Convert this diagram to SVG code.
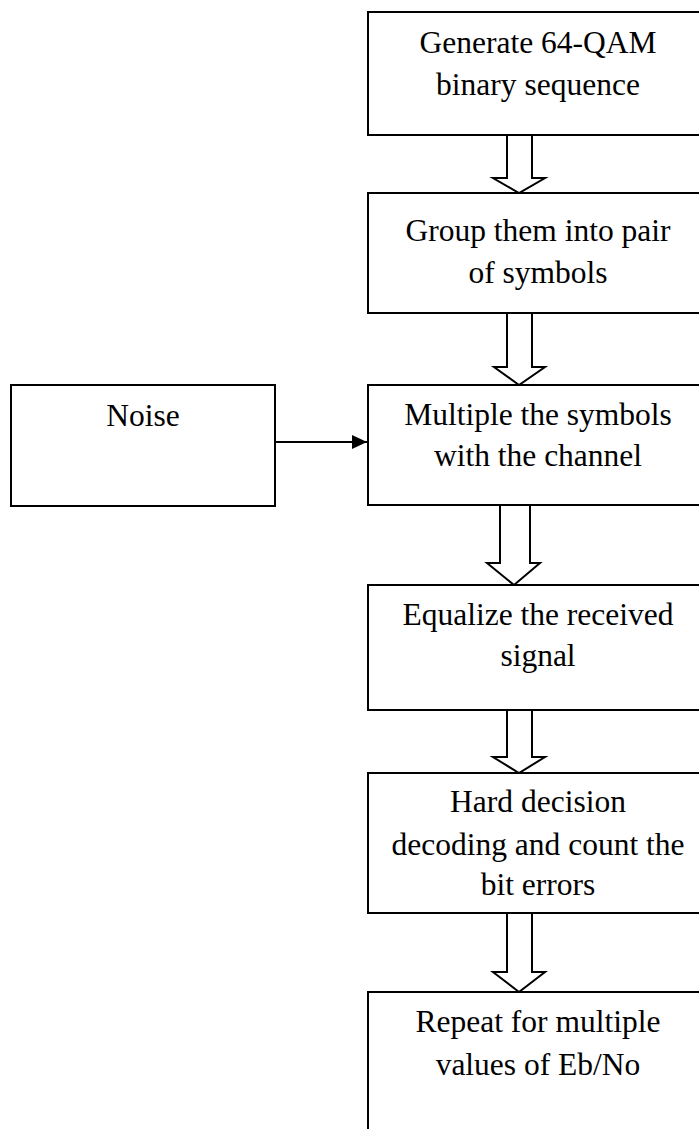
<svg xmlns="http://www.w3.org/2000/svg" width="699" height="1129" viewBox="0 0 699 1129">
<style>
.box{fill:#fff;stroke:#000;stroke-width:2}
.blk{fill:#fff;stroke:#000;stroke-width:2;stroke-linejoin:miter}
.ln{fill:none;stroke:#000;stroke-width:2}
text{font-family:"Liberation Serif","Times New Roman",serif;font-size:31.5px;fill:#000;text-anchor:middle}
</style>
<defs>
<marker id="ah" markerWidth="8" markerHeight="8" refX="7.5" refY="3.5" orient="auto" markerUnits="strokeWidth">
<path d="M0,0 L7.5,3.5 L0,7 Z" fill="#000"/>
</marker>
</defs>
<rect width="699" height="1129" fill="#fff"/>
<g id="connectors">
<polygon class="blk" points="507,135 507,178 493,178 519,193 545,178 532,178 532,135"/>
<polygon class="blk" points="507,313 507,367 494,367 519,385 545,367 532,367 532,313"/>
<polygon class="blk" points="500,505 500,563 487,563 514,585 540,563 530,563 530,505"/>
<polygon class="blk" points="507,710 507,757 493,757 519,773 545,757 532,757 532,710"/>
<polygon class="blk" points="507,913 507,972 493,972 519,992 545,972 532,972 532,913"/>
<line class="ln" x1="275" y1="442" x2="367" y2="442" marker-end="url(#ah)"/>
</g>
<g id="n1">
<rect class="box" x="368" y="12" width="342" height="123"/>
<text x="538" y="53">Generate 64-QAM</text>
<text x="538" y="95">binary sequence</text>
</g>
<g id="n2">
<rect class="box" x="368" y="193" width="342" height="120"/>
<text x="538" y="241">Group them into pair</text>
<text x="538" y="283">of symbols</text>
</g>
<g id="n3">
<rect class="box" x="368" y="385" width="342" height="120"/>
<text x="538" y="425">Multiple the symbols</text>
<text x="538" y="466">with the channel</text>
</g>
<g id="noise">
<rect class="box" x="11" y="385" width="264" height="121"/>
<text x="143" y="426">Noise</text>
</g>
<g id="n4">
<rect class="box" x="368" y="585" width="342" height="125"/>
<text x="538" y="625">Equalize the received</text>
<text x="538" y="666">signal</text>
</g>
<g id="n5">
<rect class="box" x="368" y="773" width="342" height="140"/>
<text x="538" y="812">Hard decision</text>
<text x="538" y="855">decoding and count the</text>
<text x="538" y="895">bit errors</text>
</g>
<g id="n6">
<rect class="box" x="368" y="992" width="342" height="160"/>
<text x="538" y="1032">Repeat for multiple</text>
<text x="538" y="1075">values of Eb/No</text>
</g>
</svg>
